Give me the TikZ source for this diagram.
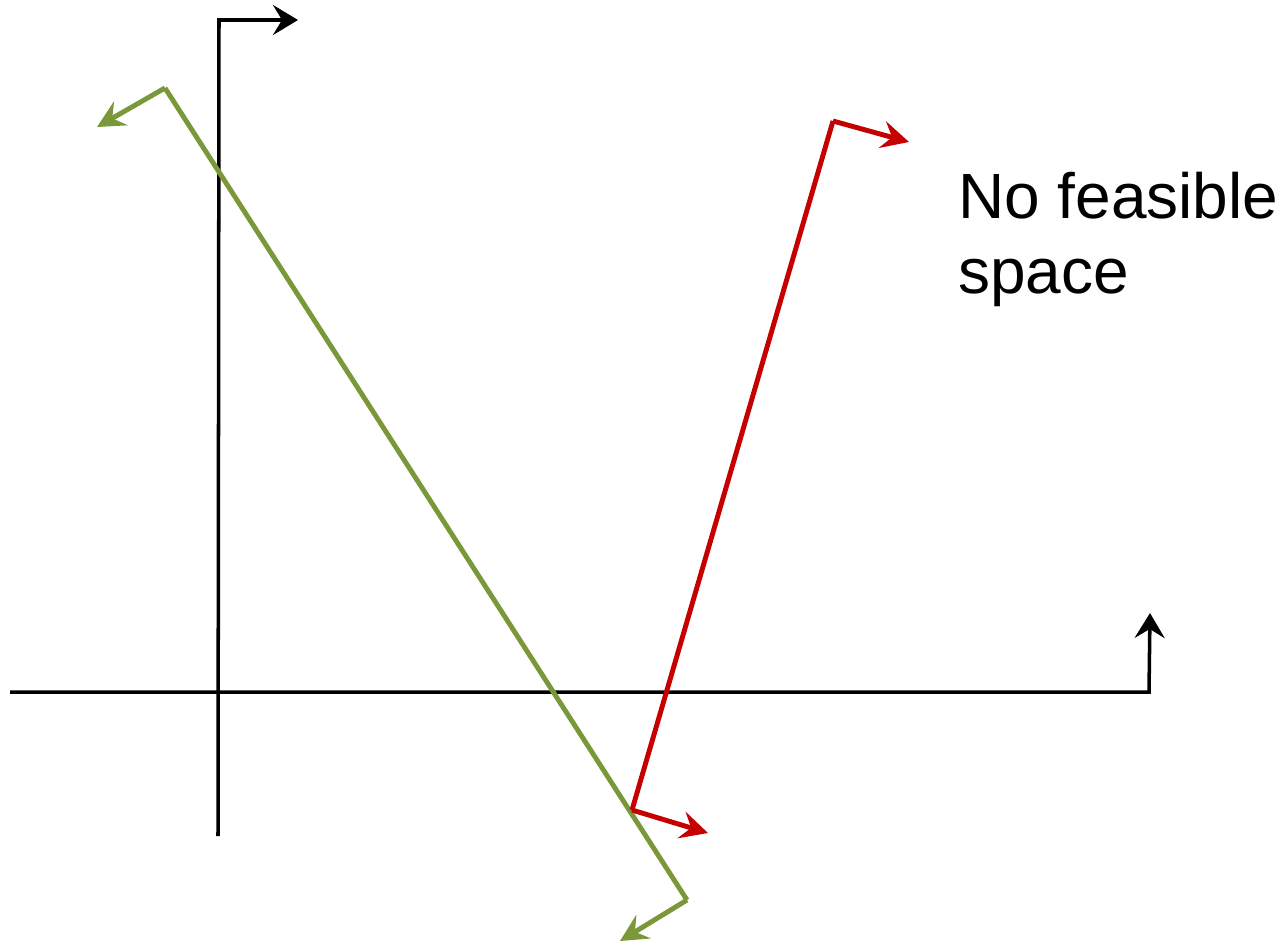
\documentclass[tikz,border=0pt]{standalone}
\definecolor{green1}{RGB}{122, 152, 58}
\definecolor{red1}{RGB}{196, 0, 0}
\usepackage{fontspec}
\setmainfont{Liberation Sans}
\usepackage{tikz}
\usetikzlibrary{arrows.meta, positioning, calc}

\tikzset{
  axis/.style={black, line width=2pt, -{Stealth[length=5mm, width=6mm, inset=1.8mm]}},
  bound/.style={line width=2.8pt, -{Stealth[length=5.5mm, width=5.5mm, inset=2mm]}}
}

\begin{document}
\begin{tikzpicture}[x=0.02cm, y=-0.02cm]
  \useasboundingbox (0,0) rectangle (1285,944);
  % axes
  \coordinate (yend) at (218,836);
  \coordinate (ycorner) at (219,20);
  \coordinate (ytip) at (298,20);
  \coordinate (xend) at (10,692);
  \coordinate (xcorner) at (1149,692);
  \coordinate (xtip) at (1150,613);
  \draw[axis] (yend) -- (ycorner) -- (ytip);
  \draw[axis] (xend) -- (xcorner) -- (xtip);
  % constraints
  \coordinate (g1) at (165,88);
  \coordinate (g2) at (687,900);
  \coordinate (r1) at (833,121);
  \coordinate (r2) at (632,810);
  \draw[line width=2.8pt, green1] (g1) -- (g2);
  \draw[bound, green1] (g1) -- (97,127);
  \draw[bound, green1] (g2) -- (620,941);
  \draw[line width=2.8pt, red1] (r1) -- (r2);
  \draw[bound, red1] (r1) -- (909,142);
  \draw[bound, red1] (r2) -- (708,833);
  % label
  \node[anchor=north west, align=left, inner sep=0pt, font=\fontsize{36.4}{42.6}\selectfont] (infeasible) at (958,172) {No feasible\\space};
\end{tikzpicture}
\end{document}
